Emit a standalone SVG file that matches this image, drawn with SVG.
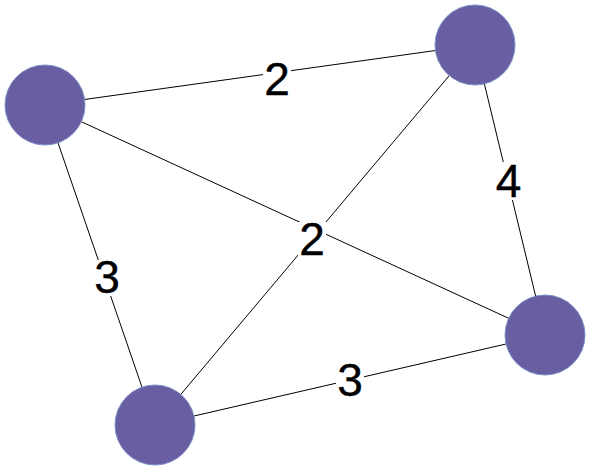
<svg xmlns="http://www.w3.org/2000/svg" width="591" height="471" viewBox="0 0 591 471">
<style>
.edge{stroke:#000;stroke-width:1;fill:none}
.node{fill:#6a5ea2;stroke:#7a8fc6;stroke-width:1}
.lbg{fill:#fff}
.lbl{font-family:"Liberation Sans",Arial,sans-serif;font-size:46px;fill:#000;stroke:#000;stroke-width:0.4;text-anchor:middle}
</style>
<rect width="591" height="471" fill="#fff"/>
<g id="connectors">
<line class="edge" x1="45" y1="105" x2="475" y2="45"/>
<line class="edge" x1="475" y1="45" x2="545" y2="335"/>
<line class="edge" x1="45" y1="105" x2="155" y2="425"/>
<line class="edge" x1="155" y1="425" x2="545" y2="335"/>
<line class="edge" x1="45" y1="105" x2="545" y2="335"/>
<line class="edge" x1="475" y1="45" x2="155" y2="425"/>
</g>
<g id="labels">
<rect class="lbg" x="263" y="62" width="28" height="36"/>
<text class="lbl" x="277" y="95">2</text>
<rect class="lbg" x="298" y="222" width="28" height="36"/>
<text class="lbl" x="312" y="255">2</text>
<rect class="lbg" x="494" y="162" width="29" height="38"/>
<text class="lbl" x="508.5" y="197">4</text>
<rect class="lbg" x="93" y="260" width="28" height="36"/>
<text class="lbl" x="107" y="293">3</text>
<rect class="lbg" x="336" y="362" width="28" height="36"/>
<text class="lbl" x="350" y="396">3</text>
</g>
<g id="node-tl"><circle class="node" cx="45" cy="105" r="40"/></g>
<g id="node-tr"><circle class="node" cx="475" cy="45" r="40"/></g>
<g id="node-br"><circle class="node" cx="545" cy="335" r="40"/></g>
<g id="node-bl"><circle class="node" cx="155" cy="425" r="40"/></g>
</svg>
